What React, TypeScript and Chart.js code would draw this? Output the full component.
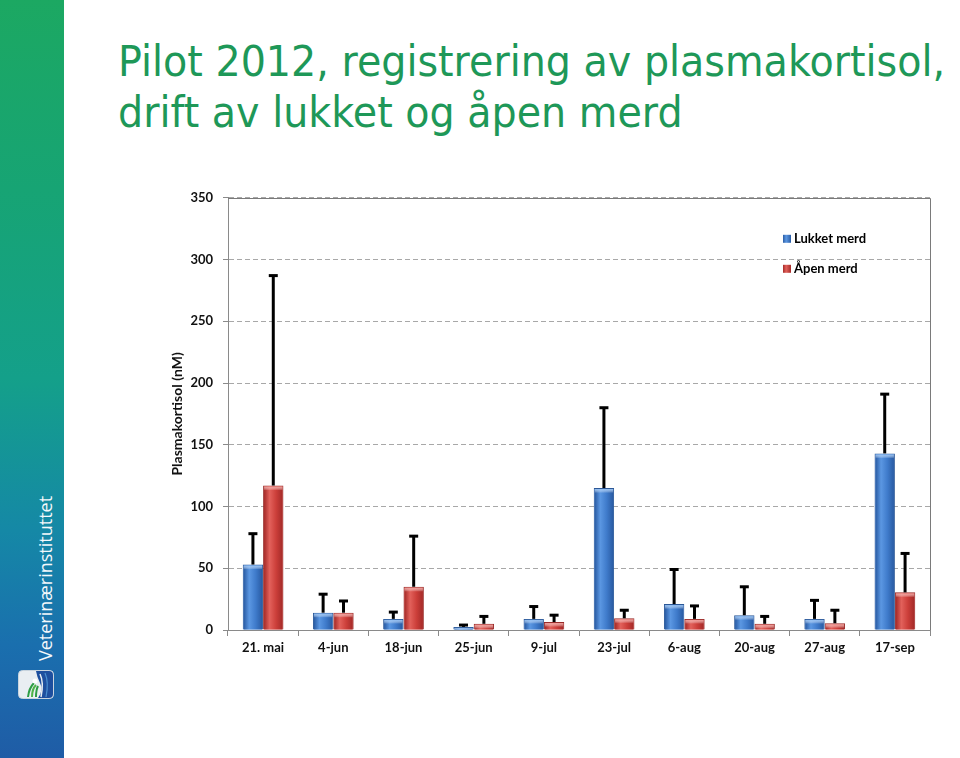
import React, { useEffect, useLayoutEffect, useRef, useState } from "react";
import { Chart, registerables } from "chart.js";

Chart.register(...registerables);

// ---- data ----
const categories = ["21. mai", "4-jun", "18-jun", "25-jun", "9-jul", "23-jul", "6-aug", "20-aug", "27-aug", "17-sep"];
const lukketMean = [53, 14, 9, 2.5, 9, 115, 21, 12, 9, 143];
const lukketSD = [25, 15, 5.5, 1.5, 10, 65, 28, 23, 15, 48];
const apenMean = [117, 14, 35, 5, 6.5, 9.5, 9, 5, 5.5, 30.5];
const apenSD = [170, 9.5, 41, 6, 5.5, 6.5, 10.5, 6, 10.5, 31.5];
const seriesNames = ["Lukket merd", "Åpen merd"];
const yMin = 0;
const yMax = 350;
const yStep = 50;
const titleLines = ["Pilot 2012, registrering av plasmakortisol,", "drift av lukket og åpen merd"];
const yAxisTitle = "Plasmakortisol (nM)";
const sidebarText = "Veterinærinstituttet";

const palettes = [
  { dark: "#2a5ca4", light: "#5b97e2", mid: "#3f7bcb", top: "#8fbdf2", border: "#2b5796" },
  { dark: "#a52b29", light: "#e2615b", mid: "#cc3f3a", top: "#f09a95", border: "#962826" },
];
const sdArrays = [lukketSD, apenSD];

const FONT = "Lato, 'Open Sans', sans-serif";

const barStylePlugin = {
  id: "barStyle",
  afterDatasetsDraw(chart: any) {
    const ctx = chart.ctx;
    const yScale = chart.scales.y;
    ctx.save();
    chart.data.datasets.forEach((ds: any, di: number) => {
      const meta = chart.getDatasetMeta(di);
      const pal = palettes[di];
      meta.data.forEach((el: any) => {
        const { x, y, base, width } = el.getProps(["x", "y", "base", "width"], true);
        const l = x - width / 2 + 1;
        const r = x + width / 2 - 1;
        const g = ctx.createLinearGradient(l, 0, r, 0);
        g.addColorStop(0, pal.dark);
        g.addColorStop(0.3, pal.light);
        g.addColorStop(0.65, pal.mid);
        g.addColorStop(1, pal.dark);
        ctx.fillStyle = g;
        ctx.fillRect(l, y + 1, r - l, base - y - 1);
        const h = Math.min(4, base - y - 1);
        if (h > 0) {
          const g2 = ctx.createLinearGradient(0, y + 1, 0, y + 1 + h);
          g2.addColorStop(0, pal.top);
          g2.addColorStop(1, "rgba(255,255,255,0)");
          ctx.fillStyle = g2;
          ctx.fillRect(l, y + 1, r - l, h);
        }
      });
    });
    // error bars
    ctx.strokeStyle = "#000";
    ctx.lineWidth = 3;
    ctx.lineCap = "butt";
    chart.data.datasets.forEach((ds: any, di: number) => {
      const meta = chart.getDatasetMeta(di);
      const sd = sdArrays[di];
      meta.data.forEach((el: any, i: number) => {
        const { x, y } = el.getProps(["x", "y"], true);
        const yTop = yScale.getPixelForValue(ds.data[i] + sd[i]);
        ctx.beginPath();
        ctx.moveTo(x, y);
        ctx.lineTo(x, yTop);
        ctx.stroke();
        ctx.beginPath();
        ctx.moveTo(x - 4.5, yTop);
        ctx.lineTo(x + 4.5, yTop);
        ctx.stroke();
      });
    });
    ctx.restore();
  },
};

const framePlugin = {
  id: "frame",
  beforeDatasetsDraw(chart: any) {
    const { ctx, chartArea } = chart;
    ctx.save();
    ctx.strokeStyle = "#7a7a7a";
    ctx.lineWidth = 1;
    ctx.beginPath();
    ctx.moveTo(chartArea.left, Math.round(chartArea.top) + 0.5);
    ctx.lineTo(Math.round(chartArea.right) + 0.5, Math.round(chartArea.top) + 0.5);
    ctx.lineTo(Math.round(chartArea.right) + 0.5, chartArea.bottom);
    ctx.stroke();
    ctx.restore();
  },
};

const legendPlugin = {
  id: "innerLegend",
  afterDraw(chart: any) {
    const { ctx, chartArea } = chart;
    ctx.save();
    ctx.font = `bold 13px ${FONT}`;
    ctx.textBaseline = "middle";
    ctx.fillStyle = "#000";
    seriesNames.forEach((name, i) => {
      const x = chartArea.right - 147;
      const y = chartArea.top + 41 + i * 30;
      const pal = palettes[i];
      const g = ctx.createLinearGradient(x, 0, x + 8, 0);
      g.addColorStop(0, pal.dark);
      g.addColorStop(0.4, pal.light);
      g.addColorStop(1, pal.dark);
      ctx.fillStyle = g;
      ctx.fillRect(x, y - 4, 8, 8);
      ctx.fillStyle = "#000";
      ctx.fillText(name, x + 11, y + 0.5);
    });
    ctx.restore();
  },
};

function ChartBox() {
  const ref = useRef<HTMLCanvasElement | null>(null);
  useEffect(() => {
    if (!ref.current) return;
    const chart = new Chart(ref.current, {
      type: "bar",
      data: {
        labels: categories,
        datasets: [
          {
            label: seriesNames[0],
            data: lukketMean,
            backgroundColor: palettes[0].mid,
            borderColor: palettes[0].border,
            borderWidth: 1,
            categoryPercentage: 0.58,
            barPercentage: 1.0,
          },
          {
            label: seriesNames[1],
            data: apenMean,
            backgroundColor: palettes[1].mid,
            borderColor: palettes[1].border,
            borderWidth: 1,
            categoryPercentage: 0.58,
            barPercentage: 1.0,
          },
        ],
      },
      options: {
        responsive: false,
        maintainAspectRatio: false,
        animation: false,
        layout: { padding: { top: 17, right: 20, left: 0, bottom: 0 } },
        plugins: {
          legend: { display: false },
          tooltip: { enabled: false },
          title: { display: false },
        },
        scales: {
          x: {
            grid: {
              display: true,
              drawOnChartArea: false,
              drawTicks: true,
              tickLength: 6,
              color: "#8a8a8a",
              offset: true,
            },
            border: { display: true, color: "#8a8a8a", width: 1 },
            ticks: {
              color: "#111",
              font: { family: FONT, size: 13, weight: "bold" },
              padding: 4,
              maxRotation: 0,
              autoSkip: false,
            },
            afterFit: (scale: any) => {
              scale.height = 40;
            },
          },
          y: {
            min: yMin,
            max: yMax,
            grid: {
              display: true,
              drawTicks: true,
              tickLength: 5,
              color: "#a8a8a8",
              tickColor: "#8a8a8a",
            },
            border: { display: true, color: "#8a8a8a", width: 1, dash: [5, 3] },
            ticks: {
              stepSize: yStep,
              color: "#111",
              font: { family: FONT, size: 13, weight: "bold" },
              padding: 10,
            },
            title: {
              display: true,
              text: yAxisTitle,
              color: "#111",
              font: { family: FONT, size: 14, weight: "bold" },
              padding: { top: 9, bottom: 0 },
            },
            afterFit: (scale: any) => {
              scale.width = 68;
            },
          },
        },
      },
      plugins: [framePlugin, barStylePlugin, legendPlugin],
    } as any);
    return () => chart.destroy();
  }, []);
  return (
    <canvas
      ref={ref}
      width={790}
      height={490}
      style={{ position: "absolute", left: 160, top: 180, width: 790, height: 490 }}
    />
  );
}

function Title() {
  const ref = useRef<HTMLSpanElement | null>(null);
  const [sx, setSx] = useState(1);
  useLayoutEffect(() => {
    if (ref.current) {
      const w = ref.current.getBoundingClientRect().width;
      if (w > 0) setSx(827 / w);
    }
  }, []);
  const common: React.CSSProperties = {
    position: "absolute",
    left: 118,
    fontFamily: "'DejaVu Sans', sans-serif",
    fontSize: 43,
    lineHeight: "51px",
    color: "#1e9858",
    whiteSpace: "nowrap",
    transformOrigin: "0 0",
    transform: `scaleX(${sx})`,
  };
  return (
    <>
      <div style={{ ...common, top: 36 }}>
        <span ref={ref}>{titleLines[0]}</span>
      </div>
      <div style={{ ...common, top: 87 }}>
        <span>{titleLines[1]}</span>
      </div>
    </>
  );
}

function Sidebar() {
  return (
    <div
      style={{
        position: "absolute",
        left: 0,
        top: 0,
        width: 64,
        height: 758,
        background:
          "linear-gradient(to bottom, #1ca862 0%, #17a474 25%, #14a08a 50%, #1588a6 70%, #1a6fae 85%, #1f5ca6 100%)",
      }}
    >
      <div
        style={{
          position: "absolute",
          left: 35,
          top: 493,
          height: 170,
          writingMode: "vertical-rl",
          transform: "rotate(180deg)",
          color: "#f4f8fb",
          fontFamily: "'Open Sans', sans-serif",
          fontSize: 18,
          lineHeight: "20px",
          whiteSpace: "nowrap",
          textAlign: "center",
        }}
      >
        {sidebarText}
      </div>
      <svg
        width={36}
        height={29}
        viewBox="0 0 36 29"
        style={{ position: "absolute", left: 18, top: 670 }}
      >
        <rect x={0.5} y={0.5} width={35} height={28} rx={4} fill="#e9eef2" stroke="#c8d4de" />
        <path d="M18 1 L31 1 Q35 1 35 5 L35 24 Q35 28 31 28 L20 28 Q26 20 22 13 Q19 7 18 1 Z" fill="#1d4f9e" />
        <path d="M22 4 Q26 12 23 27" stroke="#e9eef2" strokeWidth={1.5} fill="none" />
        <path d="M27 3 Q31 12 28 27" stroke="#4a8fd0" strokeWidth={1.2} fill="none" />
        <path d="M10 27 Q11 18 16 13" stroke="#2e9d45" strokeWidth={2} fill="none" />
        <path d="M14 27 Q14 19 18 15" stroke="#4fb348" strokeWidth={2} fill="none" />
        <path d="M18 27 Q18 20 20 16" stroke="#2e9d45" strokeWidth={2} fill="none" />
        <circle cx={17} cy={11} r={2.5} fill="#ffffff" />
      </svg>
    </div>
  );
}

export default function App() {
  return (
    <div
      style={{
        position: "fixed",
        left: 0,
        top: 0,
        width: 960,
        height: 758,
        background: "#ffffff",
        overflow: "hidden",
      }}
    >
      <Sidebar />
      <Title />
      <ChartBox />
    </div>
  );
}
